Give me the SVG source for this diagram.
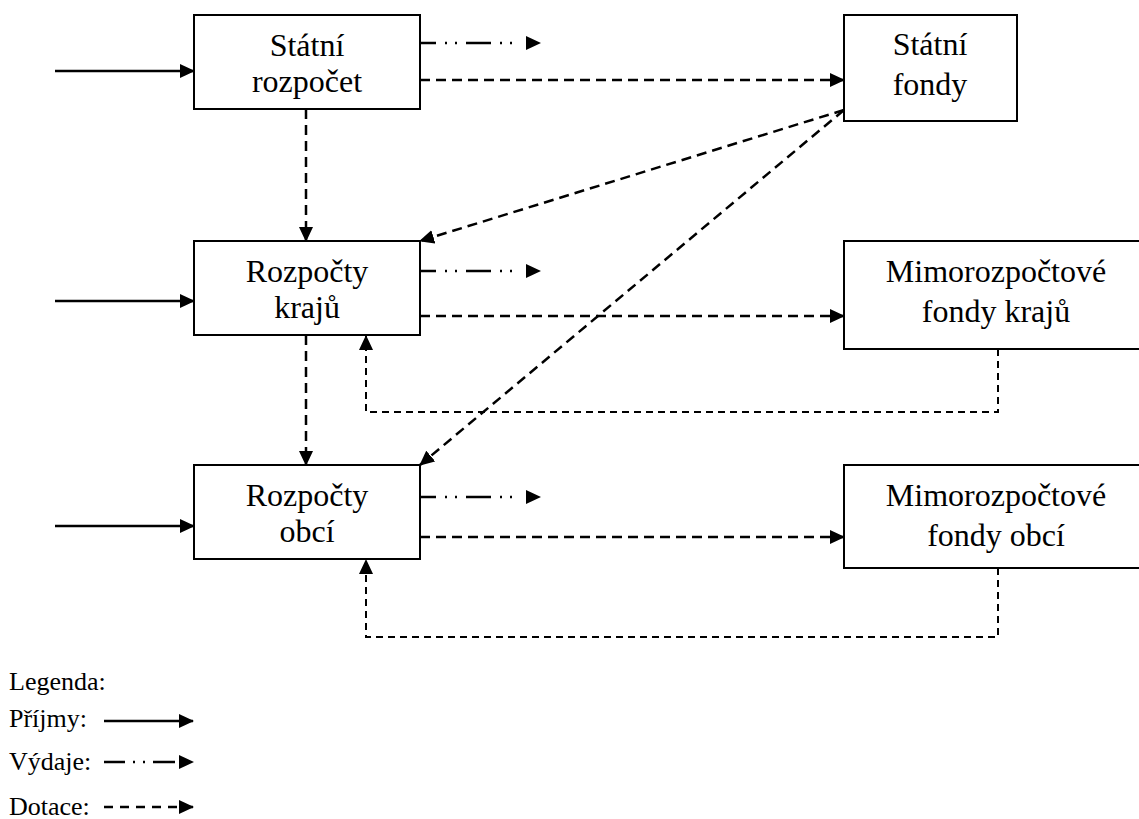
<svg xmlns="http://www.w3.org/2000/svg" width="1139" height="819" viewBox="0 0 1139 819">
<defs>
<marker id="ah" markerUnits="userSpaceOnUse" markerWidth="16" markerHeight="14" refX="14" refY="7" orient="auto">
<path d="M0,0 L15,7 L0,14 z" fill="#000"/>
</marker>
<style>
.box{fill:#fff;stroke:#000;stroke-width:2}
.t{font-family:"Liberation Serif","Times New Roman",serif;font-size:32px;fill:#000;text-anchor:middle}
.lg{font-family:"Liberation Serif","Times New Roman",serif;font-size:26px;fill:#000}
.inc{fill:none;stroke:#000;stroke-width:2.5;marker-end:url(#ah)}
.exp{fill:none;stroke:#000;stroke-width:2.5;stroke-dasharray:16 9 2 8 2 9 25 9 2 8 2 30;marker-end:url(#ah)}
.dot{fill:none;stroke:#000;stroke-width:2.5;stroke-dasharray:10 6;marker-end:url(#ah)}
.ret{fill:none;stroke:#000;stroke-width:2;stroke-dasharray:7 5;marker-end:url(#ah)}
</style>
</defs>
<g id="connectors">
<line class="inc" x1="55" y1="71" x2="194" y2="71"/>
<line class="inc" x1="55" y1="301" x2="194" y2="301"/>
<line class="inc" x1="55" y1="526" x2="194" y2="526"/>
<path class="exp" d="M420,43 H540"/>
<path class="exp" d="M420,271 H540"/>
<path class="exp" d="M420,497 H540"/>
<line class="dot" x1="420" y1="80" x2="844" y2="80"/>
<line class="dot" x1="420" y1="316" x2="844" y2="316"/>
<line class="dot" x1="420" y1="537" x2="844" y2="537"/>
<line class="dot" x1="306" y1="109" x2="306" y2="241"/>
<line class="dot" x1="306" y1="335" x2="306" y2="465"/>
<line class="dot" x1="844" y1="110" x2="420" y2="241"/>
<line class="dot" x1="844" y1="110" x2="420" y2="465"/>
<path class="ret" d="M998,349 V412 H366 V336"/>
<path class="ret" d="M998,568 V637 H366 V560"/>
</g>
<g id="n1"><rect class="box" x="194" y="15" width="226" height="94"/>
<text class="t" x="307" y="56">Státní</text><text class="t" x="307" y="92">rozpočet</text></g>
<g id="n2"><rect class="box" x="844" y="15" width="173" height="106"/>
<text class="t" x="930" y="55">Státní</text><text class="t" x="930" y="95">fondy</text></g>
<g id="n3"><rect class="box" x="194" y="241" width="226" height="94"/>
<text class="t" x="307" y="282">Rozpočty</text><text class="t" x="307" y="318">krajů</text></g>
<g id="n4"><rect class="box" x="844" y="241" width="310" height="108"/>
<text class="t" x="996" y="282">Mimorozpočtové</text><text class="t" x="996" y="322">fondy krajů</text></g>
<g id="n5"><rect class="box" x="194" y="465" width="226" height="94"/>
<text class="t" x="307" y="506">Rozpočty</text><text class="t" x="307" y="542">obcí</text></g>
<g id="n6"><rect class="box" x="844" y="465" width="310" height="103"/>
<text class="t" x="996" y="506">Mimorozpočtové</text><text class="t" x="996" y="546">fondy obcí</text></g>
<g id="legend">
<text class="lg" x="9" y="690">Legenda:</text>
<text class="lg" x="9" y="727">Příjmy:</text>
<text class="lg" x="9" y="770">Výdaje:</text>
<text class="lg" x="9" y="815">Dotace:</text>
<line class="inc" x1="104" y1="721" x2="193" y2="721"/>
<path class="exp" style="stroke-dasharray:21 8 2 8 2 8 22 40" d="M104,762 H193"/>
<line class="dot" style="stroke-dasharray:9 7" x1="104" y1="807" x2="193" y2="807"/>
</g>
</svg>
